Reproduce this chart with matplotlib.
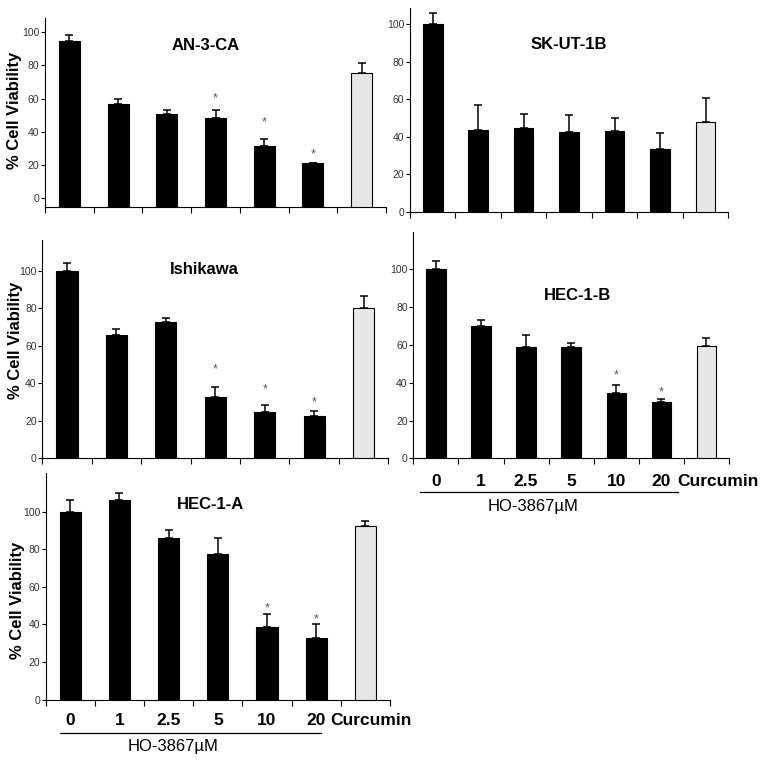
import matplotlib
matplotlib.use('Agg')
import matplotlib.pyplot as plt
import matplotlib.transforms as mtransforms
import numpy as np

plt.rcParams['font.family'] = ['Liberation Sans', 'DejaVu Sans']

# categories along x (6 doses of HO-3867 + curcumin)
categories = ['0', '1', '2.5', '5', '10', '20', 'Curcumin']
dose_label = 'HO-3867\u00b5M'
ylabel = '% Cell Viability'

# % viability, upper error bar and asterisk heights
an3ca_vals = [100, 62.2, 55.8, 53.8, 36.7, 26.3, 80.9]
an3ca_err = [4.0, 2.8, 2.6, 4.6, 4.1, 0.5, 5.7]
an3ca_stars = [None, None, None, 65.7, 50.8, 31.9, None]

skut1b_vals = [100, 43.8, 44.5, 42.4, 42.9, 33.5, 48.0]
skut1b_err = [5.9, 12.9, 7.6, 9.0, 6.9, 8.7, 12.6]
skut1b_stars = [None] * 7

ishikawa_vals = [100, 65.9, 72.8, 32.7, 24.5, 22.7, 80.1]
ishikawa_err = [4.1, 2.8, 1.8, 5.1, 3.9, 2.3, 6.6]
ishikawa_stars = [None, None, None, 47.6, 36.9, 29.8, None]

hec1b_vals = [100, 70.0, 59.1, 59.1, 34.4, 29.6, 59.6]
hec1b_err = [4.6, 3.5, 6.2, 1.7, 4.4, 1.6, 3.9]
hec1b_stars = [None, None, None, None, 43.7, 34.9, None]

hec1a_vals = [100, 106.2, 85.8, 77.3, 38.4, 32.5, 92.4]
hec1a_err = [6.2, 3.6, 4.6, 8.5, 7.4, 7.5, 2.6]
hec1a_stars = [None, None, None, None, 48.5, 42.8, None]

W, H = 764, 763
fig = plt.figure(figsize=(W / 100, H / 100), dpi=100)


def px_axes(left, top, right, bottom):
    # axes placed by pixel box of the reference picture
    return fig.add_axes([left / W, (H - bottom) / H, (right - left) / W, (bottom - top) / H])


def draw_panel(ax, title, vals, err, stars, ymax, title_xy, tick_shift=0.0,
               ylab_xy=None, xlabels=None):
    x = np.arange(len(vals))
    colors = ['black'] * (len(vals) - 1) + ['#e6e6e6']
    ax.bar(x, vals, width=0.43, color=colors, edgecolor='black', linewidth=0.8, zorder=3)
    ax.errorbar(x, vals, yerr=[np.zeros(len(err)), err], fmt='none', ecolor='black',
                elinewidth=1.1, capsize=3, capthick=1.1, zorder=2)
    for xi, s in zip(x, stars):
        if s is not None:
            ax.text(xi, s, '*', ha='center', va='center', fontsize=9, color='#555555')

    ax.set_xlim(-0.5, len(vals) - 0.5)
    ax.set_ylim(0, ymax)
    for sp in ['top', 'right']:
        ax.spines[sp].set_visible(False)
    for sp in ['left', 'bottom']:
        ax.spines[sp].set_linewidth(0.8)
    ax.set_xticks(np.arange(-0.5, len(vals), 1))
    ax.tick_params(axis='x', direction='out', length=4, width=0.8, labelbottom=False)
    ax.set_yticks(np.arange(0, 101, 20) + tick_shift)
    ax.set_yticklabels([str(v) for v in range(0, 101, 20)])
    ax.tick_params(axis='y', direction='out', length=3, width=0.8, pad=1,
                   labelsize=7.5, labelcolor='#333333')

    ax.text(title_xy[0], title_xy[1], title, transform=ax.transAxes,
            ha='center', va='center', fontsize=12, fontweight='bold')
    if ylab_xy is not None:
        ax.text(ylab_xy[0], ylab_xy[1], ylabel, transform=ax.transAxes, rotation=90,
                ha='center', va='center', fontsize=12, fontweight='bold')

    if xlabels is not None:
        lab_y, line_x0, line_x1, line_y, dose_x, dose_y, cur_x = xlabels
        tr = mtransforms.blended_transform_factory(ax.transData, ax.transAxes)
        for i, c in enumerate(categories):
            xx = cur_x if c == 'Curcumin' else i
            ax.text(xx, lab_y, c, transform=tr, ha='center', va='center', fontsize=12.5,
                    fontweight='bold')
        ax.plot([line_x0, line_x1], [line_y, line_y], color='black', lw=0.9,
                transform=tr, clip_on=False)
        ax.text(dose_x, dose_y, dose_label, transform=tr, ha='center', va='center',
                fontsize=12)


ax1 = px_axes(45, 18, 386, 207)
draw_panel(ax1, 'AN-3-CA', an3ca_vals, an3ca_err, an3ca_stars, 114,
           (0.47, 0.857), tick_shift=5.4, ylab_xy=(-0.09, 0.51))

ax2 = px_axes(410, 8, 728.3, 212)
draw_panel(ax2, 'SK-UT-1B', skut1b_vals, skut1b_err, skut1b_stars, 108.5,
           (0.5, 0.819))

ax3 = px_axes(42.3, 240, 388.3, 458.3)
draw_panel(ax3, 'Ishikawa', ishikawa_vals, ishikawa_err, ishikawa_stars, 116.3,
           (0.469, 0.866), ylab_xy=(-0.078, 0.54))

ax4 = px_axes(413.3, 231.7, 729, 458.3)
draw_panel(ax4, 'HEC-1-B', hec1b_vals, hec1b_err, hec1b_stars, 120,
           (0.52, 0.72),
           xlabels=(-0.103, -0.35, 5.37, -0.15, 2.15, -0.214, 6.26))

ax5 = px_axes(45.7, 473.3, 390, 699.5)
draw_panel(ax5, 'HEC-1-A', hec1a_vals, hec1a_err, hec1a_stars, 120.5,
           (0.479, 0.86), ylab_xy=(-0.082, 0.44),
           xlabels=(-0.094, -0.21, 5.09, -0.148, 2.09, -0.209, 6.11))

fig.savefig('out.png', dpi=100)
